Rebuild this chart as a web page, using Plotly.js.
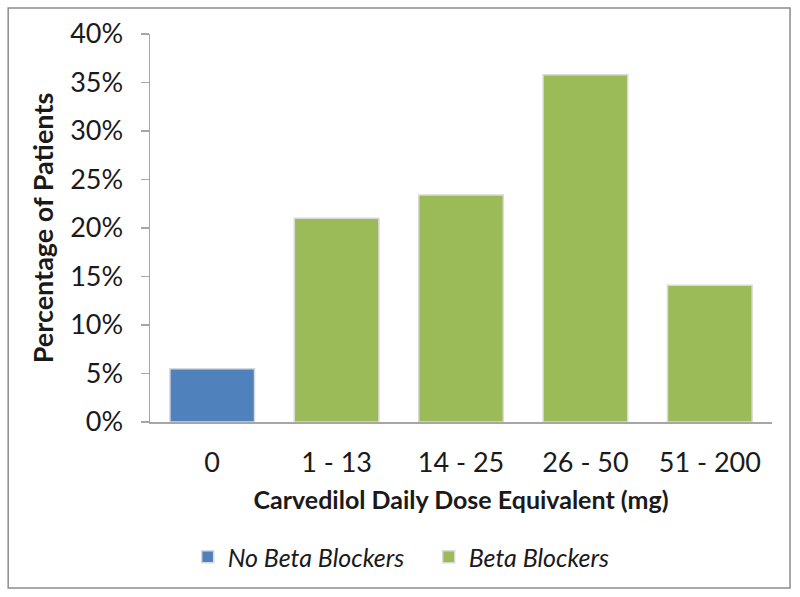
<!DOCTYPE html>
<html>
<head>
<meta charset="utf-8">
<script src="https://cdn.plot.ly/plotly-3.0.1.min.js"></script>
<style>
  html, body { margin: 0; padding: 0; background: #fff; }
  #chart { width: 800px; height: 597px; }
</style>
</head>
<body>
<div id="chart"></div>
<script>
const categories = ['0', '1 - 13', '14 - 25', '26 - 50', '51 - 200'];
const noBetaCategories = ['0'];
const noBetaValues = [5.5];
const betaCategories = ['1 - 13', '14 - 25', '26 - 50', '51 - 200'];
const betaValues = [21.0, 23.4, 35.8, 14.1];
const yTickValues = [0, 5, 10, 15, 20, 25, 30, 35, 40];

const FONT = 'Lato, "Open Sans", sans-serif';

const traces = [
  {
    type: 'bar',
    name: 'No Beta Blockers',
    x: noBetaCategories,
    y: noBetaValues,
    width: 0.68,
    marker: { color: '#4f81bd', line: { color: '#d9d9d9', width: 1.5 } },
    hoverinfo: 'x+y'
  },
  {
    type: 'bar',
    name: 'Beta Blockers',
    x: betaCategories,
    y: betaValues,
    width: 0.68,
    marker: { color: '#9bbb59', line: { color: '#d9d9d9', width: 1.5 } },
    hoverinfo: 'x+y'
  }
];

const layout = {
  width: 800,
  height: 597,
  margin: { l: 150, r: 28, t: 34, b: 175 },
  paper_bgcolor: '#ffffff',
  plot_bgcolor: '#ffffff',
  barmode: 'overlay',
  font: { family: FONT, color: '#1a1a1a' },
  showlegend: true,
  legend: {
    orientation: 'h',
    x: 0.448,
    xanchor: 'center',
    y: -0.348,
    yanchor: 'middle',
    font: { family: FONT, size: 25, style: 'italic', color: '#1a1a1a' },
    itemwidth: 30,
    entrywidth: 196,
    entrywidthmode: 'pixels',
    traceorder: 'normal'
  },
  xaxis: {
    type: 'category',
    categoryorder: 'array',
    categoryarray: categories,
    showline: true,
    linecolor: '#a6a6a6',
    linewidth: 1.5,
    ticks: '',
    showgrid: false,
    zeroline: false,
    tickfont: { family: FONT, size: 27, color: '#1a1a1a' },
    ticklabelstandoff: 16,
    title: {
      text: 'Carvedilol Daily Dose Equivalent (mg)',
      font: { family: FONT, size: 25, weight: 'bold', color: '#1a1a1a' },
      standoff: 14
    }
  },
  yaxis: {
    range: [0, 40],
    tickvals: yTickValues,
    ticktext: yTickValues.map(v => v + '%'),
    showline: true,
    linecolor: '#a6a6a6',
    linewidth: 1.5,
    ticks: 'outside',
    ticklen: 8,
    tickcolor: '#a6a6a6',
    tickwidth: 1.5,
    showgrid: false,
    zeroline: false,
    tickfont: { family: FONT, size: 27, color: '#1a1a1a' },
    ticklabelstandoff: 12,
    title: {
      text: 'Percentage of Patients',
      font: { family: FONT, size: 27, weight: 'bold', color: '#1a1a1a' },
      standoff: 8
    }
  },
  shapes: [
    {
      type: 'rect',
      xref: 'paper', yref: 'paper',
      x0: -0.228, x1: 1.029,
      y0: -0.428, y1: 1.067,
      line: { color: '#8c8c8c', width: 1.5 },
      fillcolor: 'rgba(0,0,0,0)',
      layer: 'below'
    }
  ]
};

Plotly.newPlot('chart', traces, layout, { displayModeBar: false, staticPlot: true });
</script>
</body>
</html>
